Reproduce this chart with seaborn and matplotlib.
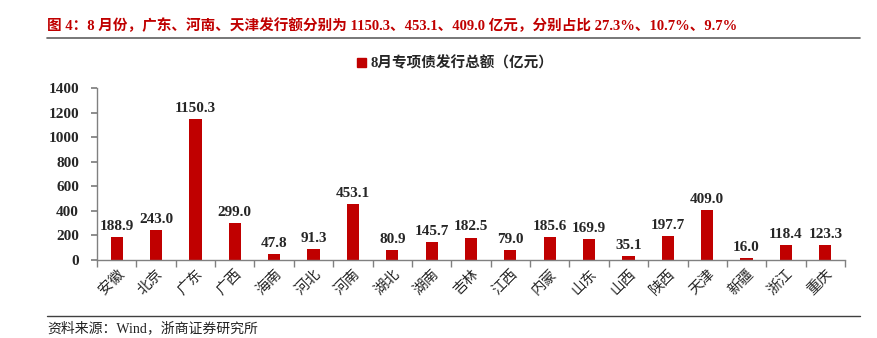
import matplotlib
matplotlib.use("Agg")
import matplotlib.pyplot as plt
import seaborn as sns
import pandas as pd
import numpy as np
from matplotlib.ticker import FixedLocator
from matplotlib.patches import Patch

provinces = ["安徽", "北京", "广东", "广西", "海南", "河北", "河南", "湖北", "湖南", "吉林",
             "江西", "内蒙", "山东", "山西", "陕西", "天津", "新疆", "浙江", "重庆"]
values = [188.9, 243.0, 1150.3, 299.0, 47.8, 91.3, 453.1, 80.9, 145.7, 182.5,
          79.0, 185.6, 169.9, 35.1, 197.7, 409.0, 16.0, 118.4, 123.3]
series_name = "8月专项债发行总额（亿元）"
title = "图 4：8 月份，广东、河南、天津发行额分别为 1150.3、453.1、409.0 亿元，分别占比 27.3%、10.7%、9.7%"
source = "资料来源：Wind，浙商证券研究所"

sns.set_theme(style="white")
plt.rcParams['font.family'] = ['Liberation Serif', 'Noto Sans CJK SC', 'DejaVu Sans']

df = pd.DataFrame({"省份": provinces, "发行额": values})

fig = plt.figure(figsize=(8.78, 3.38), dpi=100)
ax = fig.add_axes([97/878, 1 - 260/338, (845-97)/878, (260-88)/338])

red = "#C00000"
sns.barplot(data=df, x="省份", y="发行额", color=red, width=0.31, ax=ax,
            saturation=1, edgecolor="none")

ax.set_ylim(0, 1400)
ax.set_xlim(-0.5, len(provinces) - 0.5)
ax.set_yticks(np.arange(0, 1401, 200))
ax.set_yticklabels([str(v) for v in range(0, 1401, 200)], fontsize=11, fontweight="bold",
                   family=['Liberation Serif'])
ax.set_xlabel("")
ax.set_ylabel("")

for sp in ["top", "right"]:
    ax.spines[sp].set_visible(False)
for sp in ["left", "bottom"]:
    ax.spines[sp].set_color("#808080")
    ax.spines[sp].set_linewidth(1.0)

ax.tick_params(axis="y", which="major", direction="out", length=4, color="#808080",
               left=True, pad=9)
ax.tick_params(axis="x", which="major", length=0, pad=5)
ax.xaxis.set_minor_locator(FixedLocator(np.arange(-0.5, len(provinces), 1.0)))
ax.tick_params(axis="x", which="minor", direction="out", length=5, color="#808080", bottom=True)
ax.set_xticks(range(len(provinces)))
ax.set_xticklabels(provinces, rotation=45, ha="right", rotation_mode="anchor",
                   fontsize=10.5, family=['Noto Sans CJK SC'])

for i, v in enumerate(values):
    ax.annotate(f"{v:.1f}", (i, v), xytext=(0, 3), textcoords="offset points",
                ha="center", va="bottom", fontsize=11, fontweight="bold",
                family=['Liberation Serif'])

fig.legend(handles=[Patch(color=red, label=series_name)], loc="center",
           bbox_to_anchor=(455/878, 1 - 63/338), frameon=False, handlelength=0.6,
           handleheight=0.6, handletextpad=0.3,
           prop={"family": ['Liberation Serif', 'Noto Sans CJK SC'], "size": 10.5, "weight": "bold"})

fig.text(47/878, 1 - 26/338, title, color=red, fontsize=10.5, fontweight="bold",
         va="center", ha="left", family=['Liberation Serif', 'Noto Sans CJK SC'])
fig.add_artist(plt.Line2D([47/878, 860/878], [1 - 38/338, 1 - 38/338], color="#606060", lw=1.2))
fig.add_artist(plt.Line2D([47/878, 860/878], [1 - 316/338, 1 - 316/338], color="#404040", lw=1.0))
fig.text(47/878, 1 - 328/338, source, fontsize=10, va="center", ha="left",
         family=['Liberation Serif', 'Noto Sans CJK SC'], color="#222222")

fig.savefig("out.png", dpi=100)
